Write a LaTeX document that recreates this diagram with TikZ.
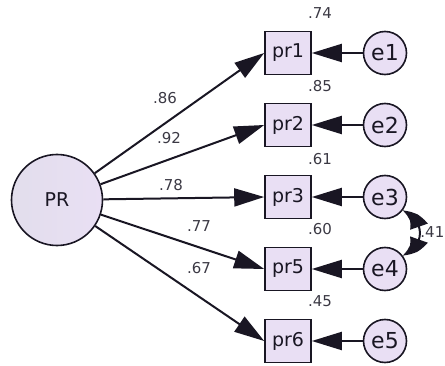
\documentclass[tikz,border=0pt]{standalone}
\usepackage{fontspec}
\setmainfont{DejaVu Sans}
\usetikzlibrary{arrows.meta,bending}
\definecolor{lilas}{RGB}{233,223,244}
\definecolor{lilasesc}{RGB}{226,222,236}
\definecolor{tinta}{RGB}{25,22,35}

\begin{document}
\begin{tikzpicture}[x=1pt,y=1pt]
\tikzstyle{observada}=[rectangle, draw=tinta, line width=1.6pt, fill=lilas, minimum width=46pt, minimum height=43pt, inner sep=0pt, font=\fontsize{19}{19}\selectfont, text=tinta]
\tikzstyle{erro}=[circle, draw=tinta, line width=1.6pt, fill=lilas, minimum size=43pt, inner sep=0pt, font=\fontsize{22}{22}\selectfont, text=tinta]
\tikzstyle{latente}=[circle, draw=tinta, line width=1.6pt, left color=lilasesc, right color=lilas, minimum size=91pt, inner sep=0pt, font=\fontsize{19}{19}\selectfont, text=tinta]
\tikzstyle{pesos}=[inner sep=0pt, font=\fontsize{15}{15}\selectfont, text=tinta!85]
\tikzstyle{seta}=[line width=2pt, draw=tinta, -{Triangle[length=30pt,width=18pt]}]
\tikzstyle{cov}=[line width=2pt, draw=tinta, {Triangle[length=26pt,width=18pt,bend]}-{Triangle[length=26pt,width=18pt,bend]}]
\useasboundingbox (0,0) rectangle (445,365);
% variavel latente
\node[latente] (PR) at (57,165) {PR};
% indicadores
\node[observada] (pr1) at (288,312) {pr1};
\node[observada] (pr2) at (288,240) {pr2};
\node[observada] (pr3) at (288,168) {pr3};
\node[observada] (pr5) at (288,96) {pr5};
\node[observada] (pr6) at (288,24) {pr6};
% erros
\node[erro] (e1) at (385,312) {e1};
\node[erro] (e2) at (385,240) {e2};
\node[erro] (e3) at (385,168) {e3};
\node[erro] (e4) at (385,96) {e4};
\node[erro] (e5) at (385,24) {e5};
% cargas
\draw[seta] (PR) -- (pr1.west);
\draw[seta] (PR) -- (pr2.west);
\draw[seta] (PR) -- (pr3.west);
\draw[seta] (PR) -- (pr5.west);
\draw[seta] (PR) -- (pr6.west);
\draw[seta] (e1) -- (pr1);
\draw[seta] (e2) -- (pr2);
\draw[seta] (e3) -- (pr3);
\draw[seta] (e4) -- (pr5);
\draw[seta] (e5) -- (pr6);
\draw[cov] (e3.-38) to[out=-18,in=18,looseness=1.4] (e4.38);
% valores
\node[pesos] (l1) at (165,267) {.86};
\node[pesos] (l2) at (169,227) {.92};
\node[pesos] (l3) at (171,180) {.78};
\node[pesos] (l5) at (199,139) {.77};
\node[pesos] (l6) at (199,97) {.67};
\node[pesos] (r1) at (320,352) {.74};
\node[pesos] (r2) at (320,279) {.85};
\node[pesos] (r3) at (320,206) {.61};
\node[pesos] (r5) at (320,136) {.60};
\node[pesos] (r6) at (320,64) {.45};
\node[pesos, anchor=east] (c34) at (444.5,133) {.41};
\end{tikzpicture}
\end{document}
